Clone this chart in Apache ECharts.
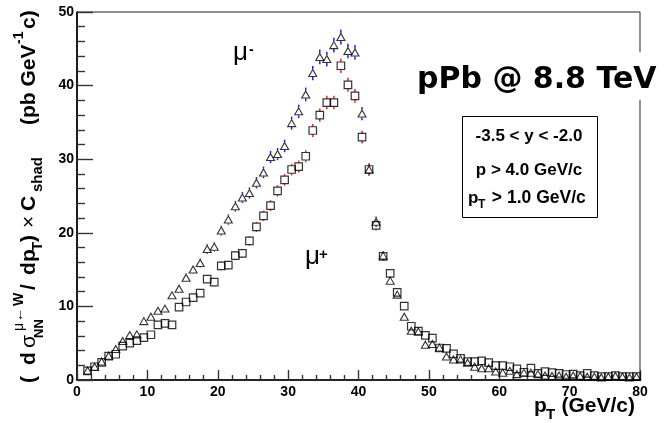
<!DOCTYPE html>
<html><head><meta charset="utf-8">
<script src="https://cdn.jsdelivr.net/npm/echarts@6/dist/echarts.min.js"></script>
<style>html,body{margin:0;padding:0;background:#fff}#c{width:670px;height:423px}</style>
</head><body><div id="c"></div>
<script>
// ---- data ----
const ptBins = [1.5,2.5,3.5,4.5,5.5,6.5,7.5,8.5,9.5,10.5,
  11.5,12.5,13.5,14.5,15.5,16.5,17.5,18.5,19.5,20.5,
  21.5,22.5,23.5,24.5,25.5,26.5,27.5,28.5,29.5,30.5,
  31.5,32.5,33.5,34.5,35.5,36.5,37.5,38.5,39.5,40.5,
  41.5,42.5,43.5,44.5,45.5,46.5,47.5,48.5,49.5,50.5,
  51.5,52.5,53.5,54.5,55.5,56.5,57.5,58.5,59.5,60.5,
  61.5,62.5,63.5,64.5,65.5,66.5,67.5,68.5,69.5,70.5,
  71.5,72.5,73.5,74.5,75.5,76.5,77.5,78.5,79.5];
const muMinus = [1.3,1.8,2.5,3.3,4.2,5.3,6.1,6.2,8.0,8.6,
  9.4,9.7,11.5,12.4,13.9,15.0,15.9,17.8,18.1,20.3,
  21.8,23.6,24.8,25.4,26.8,28.2,30.3,30.7,31.8,34.9,
  36.5,38.8,41.7,43.9,43.6,45.5,46.6,44.7,44.5,36.2,
  28.6,21.5,16.9,13.5,11.6,8.6,6.7,6.6,4.8,4.9,
  4.4,3.2,2.8,2.8,2.35,1.8,1.6,1.6,1.15,1.0,
  1.25,0.8,1.0,1.0,0.8,0.6,0.55,0.6,0.45,0.6,
  0.55,0.45,0.45,0.35,0.45,0.55,0.45,0.35,0.45];
const muMinusErr = [0.17,0.2,0.24,0.27,0.3,0.35,0.37,0.37,0.42,0.44,
  0.46,0.47,0.5,0.53,0.56,0.58,0.6,0.63,0.64,0.68,
  0.7,0.73,0.75,0.76,0.78,0.8,0.83,0.83,0.85,0.89,
  0.91,0.93,0.97,0.99,0.99,1.01,1.02,1.0,1.0,0.9,
  0.8,0.7,0.62,0.55,0.51,0.44,0.39,0.39,0.33,0.33,
  0.31,0.27,0.25,0.25,0.23,0.2,0.19,0.19,0.16,0.15,
  0.17,0.13,0.15,0.15,0.13,0.12,0.11,0.12,0.1,0.12,
  0.11,0.1,0.1,0.09,0.1,0.11,0.1,0.09,0.1];
const muPlus = [1.25,1.8,2.4,3.25,3.5,4.6,5.0,5.35,5.75,6.15,
  7.5,7.7,7.5,9.9,10.6,11.2,11.8,13.7,13.3,15.5,
  15.6,16.9,17.2,18.9,20.8,22.3,23.7,25.7,27.2,28.6,
  29.0,30.4,33.9,36.0,37.7,37.7,42.7,40.1,38.6,33.0,
  28.6,21.0,16.8,14.5,11.9,10.05,7.3,6.65,6.05,5.7,
  4.35,4.3,3.55,2.95,2.5,2.5,2.6,2.35,1.95,1.95,
  1.8,1.5,1.05,1.6,0.9,1.15,1.0,0.9,0.75,0.8,
  0.6,0.9,0.6,0.45,0.45,0.6,0.45,0.45,0.45];
const muPlusErr = [0.17,0.2,0.23,0.27,0.28,0.32,0.34,0.35,0.36,0.37,
  0.41,0.42,0.41,0.47,0.49,0.5,0.52,0.56,0.55,0.59,
  0.59,0.62,0.62,0.65,0.68,0.71,0.73,0.76,0.78,0.8,
  0.81,0.83,0.87,0.9,0.92,0.92,0.98,0.95,0.93,0.86,
  0.8,0.69,0.61,0.57,0.52,0.48,0.41,0.39,0.37,0.36,
  0.31,0.31,0.28,0.26,0.24,0.24,0.24,0.23,0.21,0.21,
  0.2,0.18,0.15,0.19,0.14,0.16,0.15,0.14,0.13,0.13,
  0.12,0.14,0.12,0.1,0.1,0.12,0.1,0.1,0.1];
const xRange = [0, 80, 10];
const yRange = [0, 50, 10];
const titleText = 'pPb @ 8.8 TeV';
const cutLines = ['-3.5 < y < -2.0', 'p > 4.0 GeV/c', ' > 1.0 GeV/c'];

// ---- chart ----
const FF = '"Liberation Sans", Arial, sans-serif';
const chart = echarts.init(document.getElementById('c'), null, {renderer: 'canvas'});

function errRender(color) {
  return function (params, api) {
    const x = api.value(0), y = api.value(1), e = api.value(2);
    const c = api.coord([x, y]);
    const t = api.coord([x, y + e]);
    const b = api.coord([x, y - e]);
    const gap = 4;
    const ch = [];
    if (c[1] - gap > t[1]) ch.push({type: 'line', shape: {x1: c[0], y1: t[1], x2: c[0], y2: c[1] - gap}, style: {stroke: color, lineWidth: 1.5}});
    if (b[1] > c[1] + gap) ch.push({type: 'line', shape: {x1: c[0], y1: c[1] + gap, x2: c[0], y2: b[1]}, style: {stroke: color, lineWidth: 1.5}});
    return {type: 'group', children: ch};
  };
}

function labelStyle(margin) {
  return {show: true, margin: margin, showMinLabel: true, showMaxLabel: true,
    color: '#000', fontFamily: FF, fontWeight: 'bold', fontSize: 14};
}

function txt(text, x, y, font, align, extra) {
  return Object.assign({
    type: 'text', z: 100,
    style: {text: text, x: x, y: y, font: font, fill: '#000',
      textAlign: align || 'left', textVerticalAlign: 'middle',
      align: align || 'left', verticalAlign: 'middle'}
  }, extra || {});
}

const MAIN = 'bold 21px ' + FF;
const SUB = 'bold 15px ' + FF;
const SUP = 'bold 14px ' + FF;
const SYM = '21px ' + FF;
const SYMS = '14px ' + FF;
const cM = 29, cSub = 38, cSup = 19;
const yTitle = {
  type: 'group', x: 0, y: 383, rotation: Math.PI / 2, z: 100,
  children: [
    txt('(', 0, cM, MAIN), txt('d', 18, cM, MAIN), txt('σ', 35, cM, SYM),
    txt('NN', 45, cSub + 1, 'bold 13px ' + FF),
    txt('μ', 52, cSup, SYMS), txt('←', 61, cSup, SYMS), txt('W', 77, cSup, SUP),
    txt('/', 93, cM, MAIN), txt('d', 108, cM, MAIN), txt('p', 121, cM, MAIN),
    txt('T', 132, cSub, SUB), txt(')', 141, cM, MAIN), txt('×', 155, cM, SYM),
    txt('C', 172, cM, MAIN), txt('shad', 191, cSub, SUB),
    txt('(pb GeV', 258, cM, MAIN), txt('-1', 339, cSup, SUP), txt('c)', 354, cM, MAIN)
  ]
};

const option = {
  animation: false,
  backgroundColor: '#fff',
  grid: {left: 77, right: 30, top: 12, bottom: 43, show: true, borderColor: '#222', borderWidth: 1, backgroundColor: 'transparent'},
  xAxis: {
    type: 'value', min: xRange[0], max: xRange[1], interval: xRange[2], position: 'bottom',
    axisLine: {show: true, onZero: false, lineStyle: {color: '#000', width: 1.6}},
    axisTick: {show: true, inside: true, length: 10, lineStyle: {color: '#333', width: 1.4}},
    minorTick: {show: true, splitNumber: 5, length: 5, lineStyle: {color: '#333', width: 1.4}},
    splitLine: {show: false},
    axisLabel: labelStyle(5)
  },
  yAxis: {
    type: 'value', min: yRange[0], max: yRange[1], interval: yRange[2], position: 'left',
    axisLine: {show: true, onZero: false, lineStyle: {color: '#000', width: 1.6}},
    axisTick: {show: true, inside: true, length: 16, lineStyle: {color: '#333', width: 1.4}},
    minorTick: {show: true, splitNumber: 5, length: 8, lineStyle: {color: '#333', width: 1.4}},
    splitLine: {show: false},
    axisLabel: labelStyle(3)
  },
  series: [
    {type: 'custom', name: 'errMinus', renderItem: errRender('#1f1fff'), encode: {x: 0, y: 1},
      data: ptBins.map((x, i) => [x, muMinus[i], muMinusErr[i]]), z: 2, silent: true},
    {type: 'custom', name: 'errPlus', renderItem: errRender('#ff2020'), encode: {x: 0, y: 1},
      data: ptBins.map((x, i) => [x, muPlus[i], muPlusErr[i]]), z: 2, silent: true},
    {type: 'scatter', name: 'mu-', symbol: 'triangle', symbolSize: [8, 7],
      itemStyle: {color: 'rgba(0,0,0,0)', borderColor: '#000', borderWidth: 1.1},
      data: ptBins.map((x, i) => [x, muMinus[i]]), z: 3, silent: true},
    {type: 'scatter', name: 'mu+', symbol: 'rect', symbolSize: 7.5,
      itemStyle: {color: 'rgba(0,0,0,0)', borderColor: '#000', borderWidth: 1.2},
      data: ptBins.map((x, i) => [x, muPlus[i]]), z: 3, silent: true}
  ],
  graphic: [
    {type: 'rect', z: 99, shape: {x: 405, y: 52, width: 265, height: 48}, style: {fill: '#fff'}},
    txt(titleText, 417, 80.5, 'bold 30px "DejaVu Sans", sans-serif'),
    {type: 'rect', z: 99, shape: {x: 462.5, y: 116.5, width: 135, height: 101}, style: {fill: '#fff', stroke: '#000', lineWidth: 1}},
    txt(cutLines[0], 529, 136.5, 'bold 17px ' + FF, 'center'),
    txt(cutLines[1], 529, 170, 'bold 17px ' + FF, 'center'),
    txt('p', 468, 198, 'bold 17px ' + FF),
    txt('T', 478, 205, 'bold 12px ' + FF),
    txt(cutLines[2], 487, 198, 'bold 17.5px ' + FF),
    txt('μ', 233, 52.5, '26px ' + FF), txt('-', 249, 50, 'bold 14px ' + FF),
    txt('μ', 305, 256.5, '26px ' + FF), txt('+', 319, 255, 'bold 15px ' + FF),
    txt('p', 534, 406.6, MAIN), txt('T', 546, 414.7, SUB),
    txt('(GeV/c)', 635, 406.6, MAIN, 'right'),
    yTitle
  ]
};
chart.setOption(option);
</script></body></html>
